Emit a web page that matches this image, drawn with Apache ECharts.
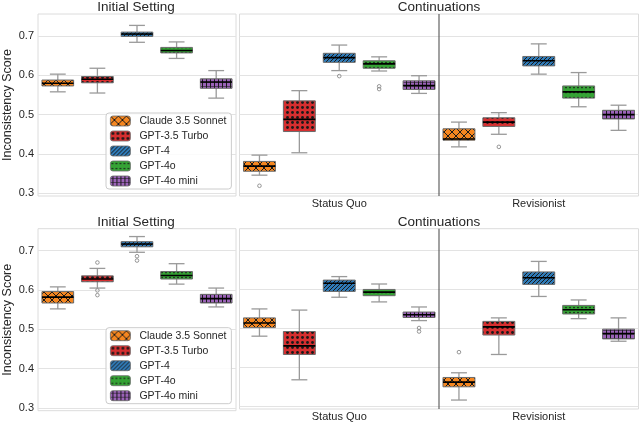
<!DOCTYPE html>
<html><head><meta charset="utf-8">
<script src="https://cdn.jsdelivr.net/npm/echarts@6/dist/echarts.min.js"></script>
<style>html,body{margin:0;padding:0;background:#fff}#c{width:640px;height:422px}</style>
</head><body><div id="c"></div>
<script>
// ---------- data ----------
const models = ['Claude 3.5 Sonnet', 'GPT-3.5 Turbo', 'GPT-4', 'GPT-4o', 'GPT-4o mini'];
const settings = ['Status Quo', 'Revisionist'];
const yTicks = [0.3, 0.4, 0.5, 0.6, 0.7];
const panelTitles = ['Initial Setting', 'Continuations'];

// box stats per model: [lower whisker, Q1, median, Q3, upper whisker]
const initialTop = [
  [0.558, 0.573, 0.580, 0.588, 0.603],
  [0.555, 0.581, 0.590, 0.597, 0.618],
  [0.684, 0.699, 0.705, 0.710, 0.727],
  [0.643, 0.657, 0.663, 0.671, 0.685],
  [0.542, 0.567, 0.583, 0.591, 0.612]
];
const statusQuoTop = [
  [0.346, 0.356, 0.369, 0.381, 0.397],
  [0.403, 0.457, 0.488, 0.535, 0.561],
  [0.612, 0.633, 0.645, 0.656, 0.677],
  [0.611, 0.618, 0.629, 0.637, 0.647],
  [0.554, 0.564, 0.574, 0.586, 0.599]
];
const revisionistTop = [
  [0.418, 0.435, 0.438, 0.464, 0.481],
  [0.450, 0.470, 0.481, 0.492, 0.505],
  [0.603, 0.624, 0.637, 0.648, 0.680],
  [0.520, 0.542, 0.558, 0.573, 0.607],
  [0.460, 0.489, 0.500, 0.511, 0.524]
];
const initialBottom = [
  [0.552, 0.567, 0.582, 0.596, 0.608],
  [0.605, 0.621, 0.628, 0.636, 0.655],
  [0.696, 0.710, 0.717, 0.723, 0.736],
  [0.615, 0.628, 0.637, 0.647, 0.667],
  [0.557, 0.567, 0.578, 0.589, 0.605]
];
const statusQuoBottom = [
  [0.480, 0.502, 0.514, 0.527, 0.550],
  [0.368, 0.433, 0.455, 0.492, 0.547],
  [0.580, 0.595, 0.616, 0.624, 0.633],
  [0.568, 0.584, 0.593, 0.600, 0.614],
  [0.520, 0.528, 0.535, 0.542, 0.555]
];
const revisionistBottom = [
  [0.316, 0.350, 0.362, 0.374, 0.386],
  [0.433, 0.483, 0.504, 0.518, 0.527],
  [0.582, 0.613, 0.630, 0.645, 0.672],
  [0.525, 0.537, 0.548, 0.559, 0.573],
  [0.467, 0.473, 0.487, 0.498, 0.527]
];
// outliers per model
const outInitialTop = [[], [], [], [], []];
const outStatusQuoTop = [[0.319], [], [0.598], [0.572, 0.565], []];
const outRevisionistTop = [[], [0.418], [], [], []];
const outInitialBottom = [[], [0.670, 0.599, 0.587], [0.686, 0.675], [], []];
const outStatusQuoBottom = [[], [], [], [], [0.501, 0.492]];
const outRevisionistBottom = [[0.439], [], [], [], []];

// ---------- styling ----------
const FONT = '"Liberation Sans", Arial, sans-serif';
const TXT = '#262626';
const colors = ['#f5861f', '#d62f30', '#2f7bb8', '#35a335', '#9b62b8'];
const hatchKinds = ['x', 'stars', 'diag', 'dots', 'plus'];

function makePattern(color, kind) {
  const dims = {x: [8, 8], stars: [5, 5], diag: [4, 4], dots: [4, 5], plus: [4, 4]}[kind];
  const c = document.createElement('canvas');
  c.width = dims[0]; c.height = dims[1];
  const g = c.getContext('2d');
  g.fillStyle = color; g.fillRect(0, 0, c.width, c.height);
  g.strokeStyle = '#1a1a1a'; g.fillStyle = '#1a1a1a'; g.lineWidth = 1;
  g.beginPath();
  if (kind === 'x') {
    g.moveTo(0, 0); g.lineTo(8, 8); g.moveTo(0, 8); g.lineTo(8, 0); g.stroke();
  } else if (kind === 'stars') {
    g.arc(2.5, 2.5, 1.4, 0, Math.PI * 2); g.fill();
  } else if (kind === 'diag') {
    g.moveTo(-1, 5); g.lineTo(5, -1); g.moveTo(-1, 1); g.lineTo(1, -1); g.moveTo(3, 5); g.lineTo(5, 3); g.stroke();
  } else if (kind === 'dots') {
    g.arc(2, 2.5, 0.85, 0, Math.PI * 2); g.fill();
  } else if (kind === 'plus') {
    g.moveTo(2.5, 0); g.lineTo(2.5, 4); g.stroke();
    g.beginPath(); g.globalAlpha = 0.55; g.moveTo(0, 2.5); g.lineTo(4, 2.5); g.stroke();
  }
  return {image: c, repeat: 'repeat'};
}
const patterns = colors.map((c, i) => makePattern(c, hatchKinds[i]));

function boxRender(nSlots, fill) {
  return function (params, api) {
    const cat = api.value(0), slot = api.value(1);
    const band = api.size([1, 0])[0];
    const slotW = band / nSlots;
    const cx = api.coord([cat, api.value(4)])[0] + (slot - (nSlots - 1) / 2) * slotW;
    const bw = slotW * 0.8;
    const y = i => api.coord([cat, api.value(i)])[1];
    const lo = y(2), q1 = y(3), med = y(4), q3 = y(5), hi = y(6);
    const wStyle = {stroke: '#9a9a9a', lineWidth: 1.3};
    return {
      type: 'group',
      children: [
        {type: 'line', shape: {x1: cx, y1: hi, x2: cx, y2: q3}, style: wStyle},
        {type: 'line', shape: {x1: cx, y1: q1, x2: cx, y2: lo}, style: wStyle},
        {type: 'line', shape: {x1: cx - bw / 4, y1: hi, x2: cx + bw / 4, y2: hi}, style: wStyle},
        {type: 'line', shape: {x1: cx - bw / 4, y1: lo, x2: cx + bw / 4, y2: lo}, style: wStyle},
        {type: 'rect', shape: {x: cx - bw / 2, y: q3, width: bw, height: q1 - q3},
          style: {fill: fill, stroke: '#6b6b6b', lineWidth: 1}},
        {type: 'line', shape: {x1: cx - bw / 2, y1: med, x2: cx + bw / 2, y2: med},
          style: {stroke: '#000', lineWidth: 1.6}}
      ]
    };
  };
}
function outlierRender(nSlots) {
  return function (params, api) {
    const cat = api.value(0), slot = api.value(1);
    const band = api.size([1, 0])[0];
    const slotW = band / nSlots;
    const p = api.coord([cat, api.value(2)]);
    const cx = p[0] + (slot - (nSlots - 1) / 2) * slotW;
    return {type: 'circle', shape: {cx: cx, cy: p[1], r: 1.8},
      style: {fill: 'none', stroke: '#8a8a8a', lineWidth: 0.9}};
  };
}
function dividerRender(params, api) {
  const x0 = api.coord([api.value(0), api.value(2)])[0];
  const x1 = api.coord([api.value(1), api.value(2)])[0];
  const x = (x0 + x1) / 2;
  const cs = params.coordSys;
  return {type: 'line', shape: {x1: x, y1: cs.y, x2: x, y2: cs.y + cs.height},
    style: {stroke: '#555', lineWidth: 1.1}};
}

// ---------- layout ----------
const rowTops = [14, 228.7];
const plotH = 182;
const grids = [], xAxes = [], yAxes = [], series = [], titles = [], legends = [];
const rowData = [
  {init: initialTop, sq: statusQuoTop, rv: revisionistTop, oi: outInitialTop, osq: outStatusQuoTop, orv: outRevisionistTop},
  {init: initialBottom, sq: statusQuoBottom, rv: revisionistBottom, oi: outInitialBottom, osq: outStatusQuoBottom, orv: outRevisionistBottom}
];
const gridBase = {show: true, borderColor: '#dcdcdc', borderWidth: 1, backgroundColor: '#fff'};
const splitStyle = {show: true, lineStyle: {color: '#e3e3e3', width: 1}};

rowData.forEach((rd, r) => {
  const top = rowTops[r];
  grids.push(Object.assign({left: 36, top: top, width: 200, height: plotH}, gridBase));
  grids.push(Object.assign({left: 239.5, top: top, width: 399, height: plotH}, gridBase));
  const gl = 2 * r, gr = 2 * r + 1;
  xAxes.push({type: 'category', gridIndex: gl, data: models, axisLine: {show: false}, axisTick: {show: false},
    axisLabel: {show: false}, splitLine: {show: false}});
  xAxes.push({type: 'category', gridIndex: gr, data: settings, axisLine: {show: false}, axisTick: {show: false},
    axisLabel: {show: true, color: TXT, fontSize: 11, fontFamily: FONT, margin: 2}, splitLine: {show: false}});
  const yBase = {type: 'value', min: 0.293, max: 0.756, axisLine: {show: false},
    axisTick: {show: false, customValues: yTicks}, splitLine: splitStyle};
  yAxes.push(Object.assign({gridIndex: gl, name: 'Inconsistency Score', nameLocation: 'middle', nameGap: 24,
    nameTextStyle: {color: TXT, fontSize: 12.5, fontFamily: FONT},
    axisLabel: {show: true, customValues: yTicks, formatter: v => v.toFixed(1), color: TXT, fontSize: 11, fontFamily: FONT, margin: 4}}, yBase));
  yAxes.push(Object.assign({gridIndex: gr, axisLabel: {show: false, customValues: yTicks}}, yBase));

  titles.push({text: panelTitles[0], left: 136, top: top - 13.5, textAlign: 'center', padding: 0,
    textStyle: {fontSize: 13.5, fontWeight: 'normal', color: TXT, fontFamily: FONT}});
  titles.push({text: panelTitles[1], left: 439, top: top - 13.5, textAlign: 'center', padding: 0,
    textStyle: {fontSize: 13.5, fontWeight: 'normal', color: TXT, fontFamily: FONT}});

  legends.push({data: models, orient: 'vertical', left: 106, top: top + 99, padding: [2, 5, 2, 4],
    itemWidth: 20, itemHeight: 10, itemGap: 3, selectedMode: false,
    backgroundColor: 'rgba(255,255,255,0.85)', borderColor: '#cccccc', borderWidth: 1, borderRadius: 3,
    itemStyle: {borderColor: '#6b6b6b', borderWidth: 0.8},
    textStyle: {color: TXT, fontSize: 10.5, fontFamily: FONT, lineHeight: 12, padding: [0, 0, 0, 4]}});

  models.forEach((m, i) => {
    series.push({type: 'custom', name: m, xAxisIndex: gl, yAxisIndex: gl, itemStyle: {color: patterns[i]},
      encode: {x: 0, y: [2, 3, 4, 5, 6]}, renderItem: boxRender(1, patterns[i]),
      data: [[i, 0].concat(rd.init[i])]});
    series.push({type: 'custom', name: m, xAxisIndex: gr, yAxisIndex: gr, itemStyle: {color: patterns[i]},
      encode: {x: 0, y: [2, 3, 4, 5, 6]}, renderItem: boxRender(5, patterns[i]),
      data: [[0, i].concat(rd.sq[i]), [1, i].concat(rd.rv[i])]});
    const oL = rd.oi[i].map(v => [i, 0, v]);
    const oR = rd.osq[i].map(v => [0, i, v]).concat(rd.orv[i].map(v => [1, i, v]));
    if (oL.length) series.push({type: 'custom', name: 'outliers', xAxisIndex: gl, yAxisIndex: gl,
      encode: {x: 0, y: 2}, renderItem: outlierRender(1), data: oL});
    if (oR.length) series.push({type: 'custom', name: 'outliers', xAxisIndex: gr, yAxisIndex: gr,
      encode: {x: 0, y: 2}, renderItem: outlierRender(5), data: oR});
  });
  series.push({type: 'custom', name: 'divider', xAxisIndex: gr, yAxisIndex: gr, z: 5,
    encode: {x: [0, 1], y: 2}, renderItem: dividerRender, data: [[0, 1, 0.5]]});
});

const chart = echarts.init(document.getElementById('c'), null, {renderer: 'canvas'});
chart.setOption({
  animation: false,
  backgroundColor: '#fff',
  textStyle: {fontFamily: FONT},
  title: titles,
  legend: legends,
  grid: grids,
  xAxis: xAxes,
  yAxis: yAxes,
  series: series
});
</script></body></html>
